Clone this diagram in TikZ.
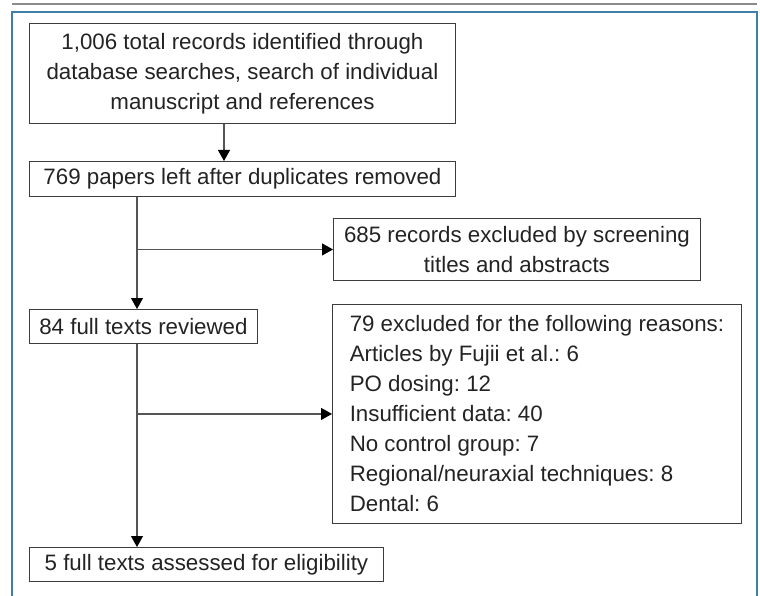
\documentclass[tikz,border=0pt]{standalone}
\usepackage{fontspec}
\setmainfont{Liberation Sans}
\usetikzlibrary{arrows.meta}
\frenchspacing

\definecolor{frameblue}{RGB}{62,128,168}
\definecolor{rulegrey}{RGB}{140,140,140}
\definecolor{boxline}{RGB}{60,60,60}
\definecolor{textgrey}{RGB}{35,35,35}
\definecolor{linkgrey}{RGB}{85,85,85}

\begin{document}
\begin{tikzpicture}[x=1pt,y=-1pt,
        box/.style={draw=boxline, line width=0.9pt, anchor=north west, inner sep=0pt,
            text=textgrey, font=\fontsize{22.3}{30}\selectfont},
        link/.style={draw=linkgrey, line width=1.1pt},
        arr/.style={link, -{Triangle[width=12pt,length=11pt,color=black]}}]
        \useasboundingbox (0,0) rectangle (760,596);

        % Frame
        \draw[rulegrey, line width=2pt] (12,4) -- (757,4);
        \draw[frameblue, line width=1.3pt] (12,596) -- (12,12) -- (757,12) -- (757,596);

        % Main column
        \node[box, minimum width=426pt, minimum height=100pt, align=center] (records) at (29,23)
            {1,006 total records identified through\\database searches, search of individual\\manuscript and references};
        \node[box, minimum width=426pt, minimum height=35pt] (dedup) at (29,161)
            {769 papers left after duplicates removed};
        \node[box, minimum width=228pt, minimum height=34pt] (fulltext) at (29,309)
            {84 full texts reviewed};
        \node[box, minimum width=354pt, minimum height=34pt] (eligible) at (29,547)
            {5 full texts assessed for eligibility};

        % Exclusions
        \node[box, minimum width=367pt, minimum height=62pt, align=center] (screened) at (333,218)
            {685 records excluded by screening\\titles and abstracts};
        \node[box, minimum width=409pt, minimum height=219pt, align=left] (reasons) at (332,304)
            {79 excluded for the following reasons:\\Articles by Fujii et al.: 6\\PO dosing: 12\\
             Insufficient data: 40\\No control group: 7\\Regional/neuraxial techniques: 8\\Dental: 6};

        % Connectors
        \coordinate (top) at (224,0);
        \coordinate (trunk) at (137,0);
        \draw[arr] (records.south -| top) -- (dedup.north -| top);
        \draw[arr] (dedup.south -| trunk) -- (fulltext.north -| trunk);
        \draw[arr] (screened.west -| trunk) -- (screened.west);
        \draw[arr] (fulltext.south -| trunk) -- (eligible.north -| trunk);
        \draw[arr] (reasons.west -| trunk) -- (reasons.west);
    \end{tikzpicture}
\end{document}
